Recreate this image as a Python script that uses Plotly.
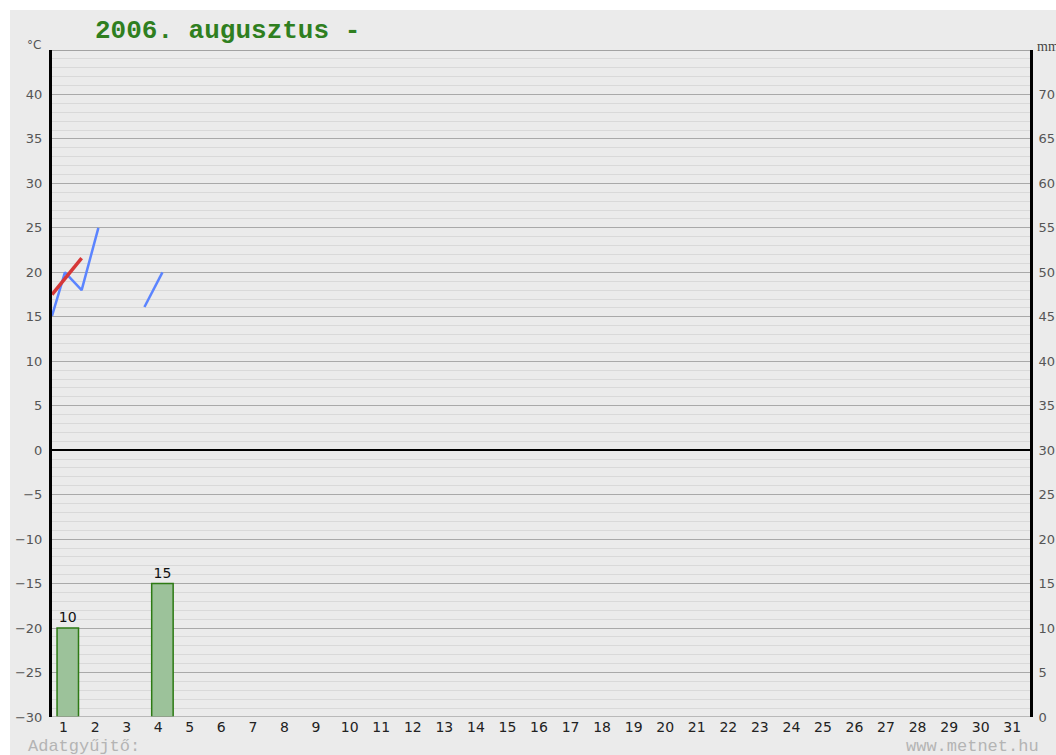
import plotly.graph_objects as go

# ---- data ----
days = list(range(1, 32))
day_labels = [str(d) for d in days]
temp_ticks = list(range(-30, 45, 5))
mm_ticks = list(range(0, 75, 5))

# blue temperature series (x in day units, None = gap)
blue_x = [0.5, 0.91, 1.44, 1.97, None, 3.43, 4.0]
blue_y = [15.1, 20.0, 18.0, 25.0, None, 16.1, 20.0]
# red temperature series
red_x = [0.5, 1.44]
red_y = [17.5, 21.6]
# precipitation (mm)
rain_days = [1, 4]
rain_mm = [10, 15]

W, H = 1056, 755
L, R, T, B = 52, 1030, 50, 717

def px_x(p):
    return (p - L) / (R - L)

def px_y(q):
    return (B - q) / (B - T)

def neg(v):
    return str(v).replace("-", "\u2212")

fig = go.Figure()

fig.add_trace(go.Bar(
    x=rain_days, y=rain_mm, yaxis="y2", width=0.68,
    marker=dict(color="#9cc29a", line=dict(color="#2d7a14", width=1.5)),
    text=[str(v) for v in rain_mm], textposition="outside",
    textfont=dict(family="DejaVu Sans", size=14, color="#111"),
    cliponaxis=False, showlegend=False,
))
fig.add_trace(go.Scatter(
    x=blue_x, y=blue_y, mode="lines", connectgaps=False,
    line=dict(color="#5b84ff", width=2.5), showlegend=False,
))
fig.add_trace(go.Scatter(
    x=red_x, y=red_y, mode="lines",
    line=dict(color="#d63838", width=3.5), showlegend=False,
))

fig.update_layout(
    width=W, height=H,
    margin=dict(l=L, r=W - R, t=T, b=H - B, autoexpand=False),
    paper_bgcolor="white",
    plot_bgcolor="#ebebeb",
    xaxis=dict(
        range=[0.5, 31.5], tickmode="array", tickvals=days,
        ticktext=[t + "\u00a0" if len(t) == 1 else t for t in day_labels],
        ticklabelshift=-2,
        showgrid=False, zeroline=False, showline=False, ticks="",
        tickfont=dict(family="DejaVu Sans", size=14, color="#222"),
        fixedrange=True,
    ),
    yaxis=dict(
        range=[-30, 45], tickmode="array", tickvals=temp_ticks,
        ticktext=[neg(v) for v in temp_ticks],
        showgrid=True, gridcolor="#a9a9a9", gridwidth=1,
        minor=dict(dtick=1, tick0=0, showgrid=True, gridcolor="#d9d9d9", gridwidth=1),
        zeroline=True, zerolinecolor="black", zerolinewidth=2,
        showline=True, linecolor="black", linewidth=3,
        ticks="", ticklabelstandoff=4,
        tickfont=dict(family="DejaVu Sans", size=13, color="#555"),
    ),
    yaxis2=dict(
        range=[0, 75], overlaying="y", side="right", anchor="x",
        tickmode="array", tickvals=mm_ticks, ticktext=[str(v) for v in mm_ticks],
        showgrid=False, zeroline=False,
        showline=True, linecolor="black", linewidth=3,
        ticks="", ticklabelstandoff=3,
        tickfont=dict(family="DejaVu Sans", size=13, color="#555"),
    ),
    shapes=[
        dict(type="rect", xref="paper", yref="paper", layer="below",
             x0=px_x(10), x1=px_x(1060), y0=px_y(760), y1=px_y(10),
             fillcolor="#ebebeb", line=dict(width=0)),
        dict(type="line", xref="paper", yref="y", x0=0, x1=1, y0=45, y1=45,
             line=dict(color="#8a8a8a", width=1.5)),
        dict(type="line", xref="paper", yref="y", x0=0, x1=1, y0=-30, y1=-30,
             line=dict(color="#a9a9a9", width=1.5)),
    ],
    annotations=[
        dict(text="<b>2006. augusztus -</b>", xref="paper", yref="paper",
             x=px_x(93), y=px_y(31), xanchor="left", yanchor="middle",
             showarrow=False,
             font=dict(family="Liberation Mono", size=26, color="#2f7f1f")),
        dict(text="°C", xref="paper", yref="paper",
             x=px_x(25), y=px_y(45), xanchor="left", yanchor="middle",
             showarrow=False,
             font=dict(family="DejaVu Sans", size=12, color="#555")),
        dict(text="mm", xref="paper", yref="paper",
             x=px_x(1035), y=px_y(46), xanchor="left", yanchor="middle",
             showarrow=False,
             font=dict(family="Liberation Serif", size=14, color="#444")),
        dict(text="Adatgyűjtő:", xref="paper", yref="paper",
             x=px_x(26), y=px_y(746), xanchor="left", yanchor="middle",
             showarrow=False,
             font=dict(family="Liberation Mono", size=17, color="#b4b4b4")),
        dict(text="www.metnet.hu", xref="paper", yref="paper",
             x=px_x(1041), y=px_y(746), xanchor="right", yanchor="middle",
             showarrow=False,
             font=dict(family="Liberation Mono", size=17, color="#b4b4b4")),
    ],
)

fig.write_html(
    "out.html",
    config={"displayModeBar": False},
    post_script="document.body.style.margin='0';"
                "document.documentElement.style.overflow='hidden';"
                "document.body.style.overflow='hidden';",
)
